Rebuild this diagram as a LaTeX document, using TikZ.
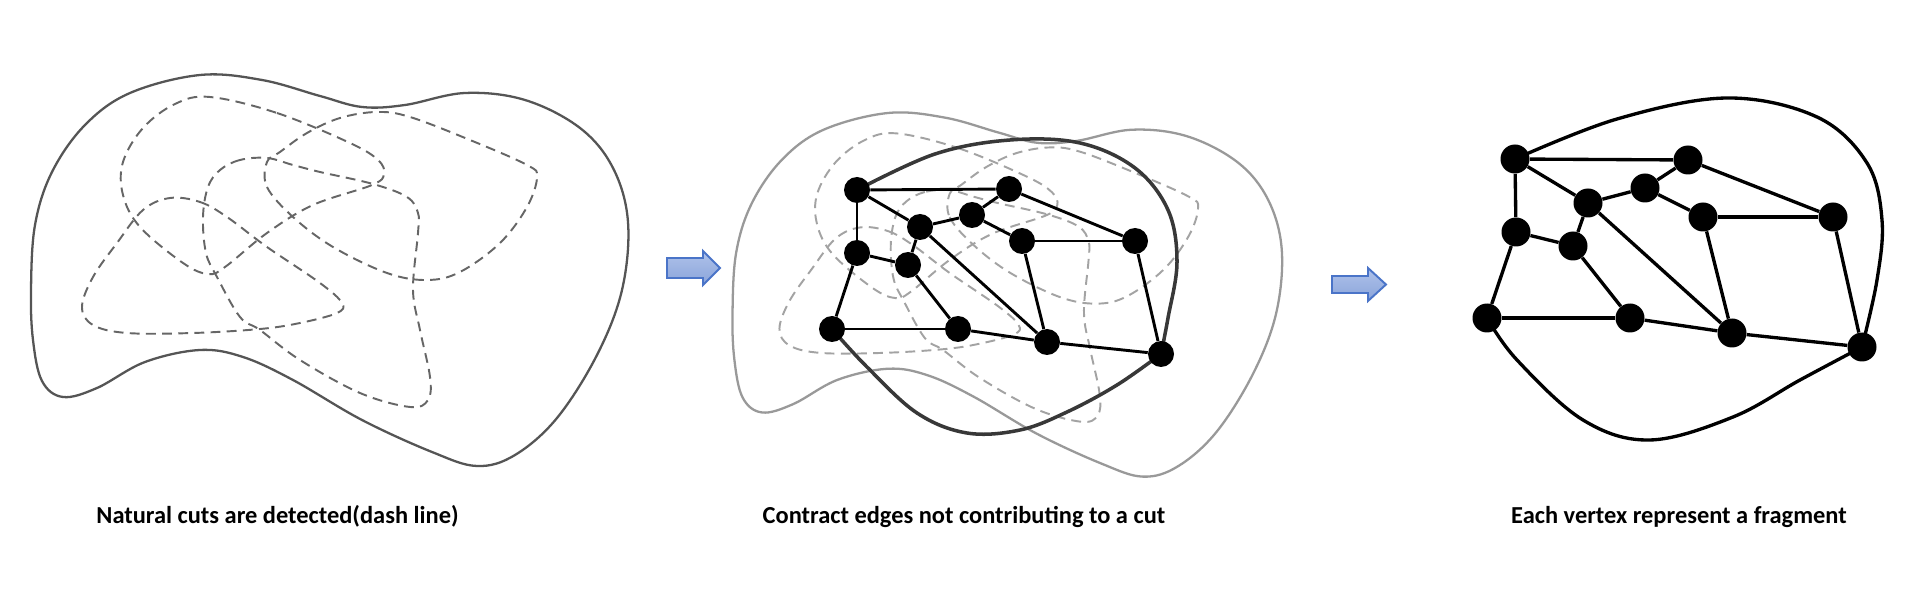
\documentclass[tikz,border=0pt]{standalone}
\usepackage{fontspec}
\newfontfamily\capfont{Carlito}
\pgfdeclarelayer{bg}
\pgfsetlayers{bg,main}
\definecolor{outerA}{HTML}{555555}
\definecolor{dashA}{HTML}{666666}
\definecolor{outerB}{HTML}{999999}
\definecolor{dashB}{HTML}{A3A3A3}
\definecolor{arrowfillT}{HTML}{AFC2EA}
\definecolor{arrowfillB}{HTML}{8AA4DA}
\definecolor{arrowedge}{HTML}{4A74C8}
\newcommand\cutfigure[2]{%
  \draw[#1, line width=1.3pt] plot[smooth cycle, tension=0.6] coordinates {
    (31,290) (35,225) (52,172) (85,125) (130,93) (200,75) (262,80) (320,96)
    (362,107) (405,105) (465,93) (525,100) (580,128) (613,168) (628,222)
    (622,290) (597,355) (557,418) (515,455) (477,466) (432,452) (362,420)
    (293,380) (243,357) (200,350) (145,362) (97,388) (63,397) (42,381) (33,340)};
  \draw[#2, cutdash] plot[smooth cycle, tension=0.6] coordinates {
    (210,97) (277,113) (350,143) (378,160) (384,174) (372,185) (313,205)
    (267,233) (225,267) (208,274) (183,263) (140,227) (123,195) (123,162)
    (143,128) (175,104)};
  \draw[#2, cutdash] plot[smooth cycle, tension=0.6] coordinates {
    (267,158) (240,160) (220,170) (208,187) (203,217) (206,253) (217,277)
    (240,317) (260,330) (300,360) (360,393) (410,407) (428,400) (430,377)
    (420,330) (413,290) (418,233) (418,213) (407,197) (373,184) (320,172)
    (293,165)};
  \draw[#2, cutdash] plot[smooth cycle, tension=0.6] coordinates {
    (267,162) (267,187) (293,217) (333,247) (387,273) (427,280) (460,272)
    (500,243) (527,207) (537,177) (527,165) (470,140) (410,117) (377,112)
    (340,118) (307,133) (280,152)};
  \draw[#2, cutdash] plot[smooth cycle, tension=0.6] coordinates {
    (170,198) (200,202) (227,217) (267,247) (320,283) (342,303) (337,313)
    (300,323) (260,329) (193,333) (127,333) (93,325) (82,307) (93,277)
    (117,243) (143,210)};
}
\begin{document}
\begin{tikzpicture}[x=0.02cm, y=-0.02cm,
  cutdash/.style={line width=1.1pt, dash pattern=on 5.6pt off 3.6pt},
  vtxB/.style={circle, fill=black, inner sep=0pt, minimum size=0.52cm},
  vtxC/.style={circle, fill=black, inner sep=0pt, minimum size=0.58cm},
  edgeB/.style={line width=1.65pt, black},
  edgeC/.style={line width=1.9pt, black},
  rimB/.style={line width=2pt, black!78},
  rimC/.style={line width=1.9pt, black},
  bluearrow/.style={draw=arrowedge, line width=1.1pt, top color=arrowfillT, bottom color=arrowfillB, line join=miter},
  lab/.style={anchor=base, inner sep=0pt, font=\capfont\bfseries\fontsize{13.9}{16}\selectfont}]
\useasboundingbox (0,0) rectangle (1931,614);

% ---------- panel 2 vertices ----------
\node[vtxB] (a) at (857,190) {};
\node[vtxB] (b) at (1009,189) {};
\node[vtxB] (c) at (972,215) {};
\node[vtxB] (d) at (920,227) {};
\node[vtxB] (e) at (1022,241) {};
\node[vtxB] (f) at (1135,241) {};
\node[vtxB] (g) at (857,253) {};
\node[vtxB] (h) at (908,265) {};
\node[vtxB] (i) at (832,329) {};
\node[vtxB] (j) at (958,329) {};
\node[vtxB] (k) at (1047,342) {};
\node[vtxB] (l) at (1161,354) {};

% ---------- panel 3 vertices ----------
\node[vtxC] (A) at (1515,159) {};
\node[vtxC] (B) at (1688,160) {};
\node[vtxC] (C) at (1645,188) {};
\node[vtxC] (D) at (1588,203) {};
\node[vtxC] (E) at (1703,217) {};
\node[vtxC] (F) at (1833,217) {};
\node[vtxC] (G) at (1516,232) {};
\node[vtxC] (H) at (1573,246) {};
\node[vtxC] (I) at (1487,318) {};
\node[vtxC] (J) at (1630,318) {};
\node[vtxC] (K) at (1732,333) {};
\node[vtxC] (L) at (1862,347) {};

\begin{pgfonlayer}{bg}
\fill[white] (0,0) rectangle (1931,614);
% ---------- panel 1 ----------
\cutfigure{outerA}{dashA}
% ---------- panel 2 background ----------
\begin{scope}[shift={(704,43.25)}, xscale=0.92, yscale=0.93]
  \cutfigure{outerB}{dashB}
\end{scope}
% ---------- panel 2 graph ----------
\draw[rimB] plot[smooth, tension=0.6] coordinates {(a.center) (935,154) (1010,140)
  (1080,143) (1135,168) (1168,210) (1177,262) (1168,318) (l.center)};
\draw[rimB] plot[smooth, tension=0.6] coordinates {(i.center) (867,367) (917,413)
  (967,433) (1020,430) (1067,412) (1117,385) (l.center)};
\foreach \u/\v in {a/b,a/d,a/g,b/c,b/f,c/d,c/e,d/h,d/k,e/f,e/k,f/l,g/h,g/i,h/j,i/j,j/k,k/l}
  \draw[edgeB] (\u) -- (\v);
% ---------- panel 3 graph ----------
\draw[rimC] plot[smooth, tension=0.6] coordinates {(A.center) (1617,119) (1727,98)
  (1817,117) (1867,163) (1882,220) (1877,280) (L.center)};
\draw[rimC] plot[smooth, tension=0.6] coordinates {(I.center) (1517,360) (1583,420)
  (1650,440) (1733,417) (1800,380) (L.center)};
\foreach \u/\v in {A/B,A/D,A/G,B/C,B/F,C/D,C/E,D/H,D/K,E/F,E/K,F/L,G/H,G/I,H/J,I/J,J/K,K/L}
  \draw[edgeC] (\u) -- (\v);
\end{pgfonlayer}

% ---------- arrows ----------
\path[bluearrow] (667,258) -- (703,258) -- (703,251) -- (720,268) -- (703,285)
  -- (703,278) -- (667,278) -- cycle;
\path[bluearrow] (1332,276) -- (1368,276) -- (1368,268) -- (1386,284.5) -- (1368,301)
  -- (1368,293) -- (1332,293) -- cycle;

% ---------- captions ----------
\node[lab] (t1) at (277.5,524) {Natural cuts are detected(dash line)};
\node[lab] (t2) at (964,524) {Contract edges not contributing to a cut};
\node[lab] (t3) at (1679,524) {Each vertex represent a fragment};
\end{tikzpicture}
\end{document}
